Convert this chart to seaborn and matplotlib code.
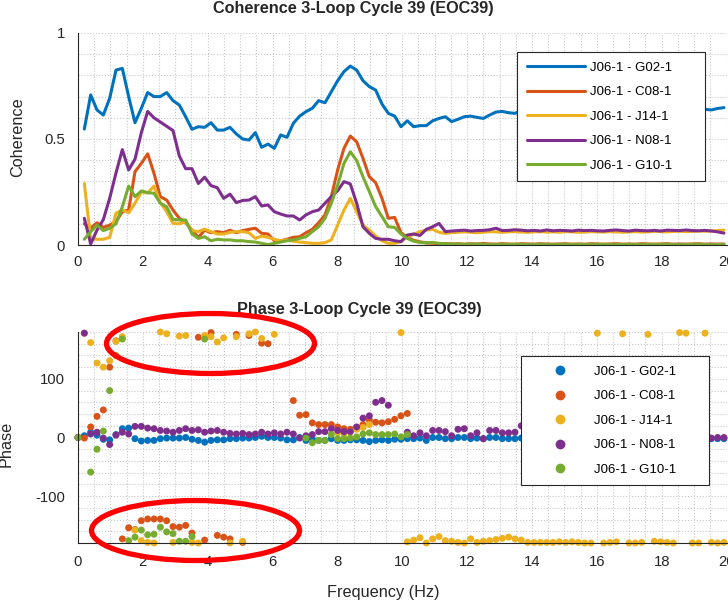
import numpy as np
import pandas as pd
import matplotlib
matplotlib.use("Agg")
import matplotlib.pyplot as plt
import seaborn as sns
from matplotlib.lines import Line2D
from matplotlib.patches import Ellipse
from matplotlib.ticker import MultipleLocator, FixedLocator

nan = np.nan

# ---------------------------------------------------------------- data
pairs = ["J06-1 - G02-1", "J06-1 - C08-1", "J06-1 - J14-1",
         "J06-1 - N08-1", "J06-1 - G10-1"]
colors = ["#0072BD", "#D95319", "#EDB120", "#7E2F8E", "#77AC30"]

bin_hz = 50 / 256                      # spectral bin spacing (fs = 50 Hz, nfft = 256)
freq = np.arange(103) * bin_hz         # phase bins, 0 .. ~19.9 Hz
coh_freq = freq[1:]                    # coherence starts at the first non-DC bin

coh_g02 = [0.547, 0.708, 0.637, 0.613, 0.692, 0.825, 0.833, 0.700, 0.577, 0.645,
           0.719, 0.700, 0.700, 0.719, 0.681, 0.660, 0.605, 0.546, 0.558, 0.555,
           0.577, 0.542, 0.542, 0.555, 0.524, 0.500, 0.495, 0.530, 0.461, 0.476,
           0.456, 0.519, 0.508, 0.574, 0.608, 0.629, 0.645, 0.681, 0.671, 0.723,
           0.775, 0.818, 0.844, 0.825, 0.775, 0.747, 0.731, 0.665, 0.621, 0.608,
           0.558, 0.586, 0.558, 0.563, 0.563, 0.586, 0.597, 0.605, 0.582, 0.593,
           0.605, 0.608, 0.602, 0.597, 0.613, 0.627, 0.630, 0.624, 0.621, 0.634,
           0.628, 0.636, 0.641, 0.632, 0.625, 0.638, 0.644, 0.637, 0.630, 0.641,
           0.648, 0.639, 0.633, 0.627, 0.636, 0.645, 0.650, 0.641, 0.634, 0.629,
           0.637, 0.646, 0.642, 0.635, 0.631, 0.639, 0.644, 0.640, 0.640, 0.637,
           0.644, 0.648]
coh_c08 = [0.100, 0.080, 0.105, 0.083, 0.094, 0.110, 0.157, 0.165, 0.346, 0.385,
           0.430, 0.338, 0.228, 0.212, 0.165, 0.126, 0.105, 0.070, 0.036, 0.070,
           0.058, 0.063, 0.058, 0.070, 0.058, 0.068, 0.074, 0.079, 0.055, 0.052,
           0.020, 0.020, 0.027, 0.036, 0.039, 0.058, 0.074, 0.105, 0.142, 0.228,
           0.354, 0.456, 0.514, 0.487, 0.409, 0.322, 0.294, 0.220, 0.126, 0.130,
           0.058, 0.036, 0.022, 0.015, 0.010, 0.008, 0.006, 0.007, 0.005, 0.006,
           0.004, 0.006, 0.005, 0.007, 0.005, 0.004, 0.006, 0.005, 0.004, 0.006,
           0.005, 0.004, 0.006, 0.005, 0.004, 0.005, 0.006, 0.004, 0.005, 0.004,
           0.006, 0.005, 0.004, 0.005, 0.006, 0.004, 0.005, 0.004, 0.006, 0.005,
           0.004, 0.005, 0.006, 0.004, 0.005, 0.004, 0.005, 0.006, 0.004, 0.005,
           0.004, 0.005]
coh_j14 = [0.290, 0.030, 0.027, 0.027, 0.036, 0.150, 0.165, 0.152, 0.197, 0.250,
           0.245, 0.278, 0.200, 0.157, 0.102, 0.100, 0.110, 0.068, 0.063, 0.075,
           0.063, 0.052, 0.052, 0.060, 0.063, 0.063, 0.058, 0.031, 0.042, 0.036,
           0.027, 0.020, 0.024, 0.018, 0.014, 0.011, 0.008, 0.008, 0.011, 0.024,
           0.094, 0.165, 0.220, 0.157, 0.094, 0.070, 0.042, 0.020, 0.008, 0.008,
           0.016, 0.039, 0.050, 0.063, 0.070, 0.074, 0.060, 0.055, 0.058, 0.060,
           0.062, 0.060, 0.058, 0.060, 0.063, 0.062, 0.060, 0.062, 0.063, 0.061,
           0.060, 0.062, 0.063, 0.061, 0.062, 0.060, 0.063, 0.062, 0.060, 0.061,
           0.063, 0.062, 0.061, 0.063, 0.062, 0.060, 0.062, 0.063, 0.061, 0.062,
           0.064, 0.063, 0.062, 0.064, 0.065, 0.063, 0.064, 0.066, 0.065, 0.066,
           0.068, 0.070]
coh_n08 = [0.126, 0.005, 0.070, 0.120, 0.220, 0.340, 0.450, 0.354, 0.405, 0.530,
           0.630, 0.600, 0.580, 0.560, 0.540, 0.420, 0.360, 0.360, 0.290, 0.320,
           0.280, 0.270, 0.220, 0.240, 0.200, 0.210, 0.212, 0.228, 0.184, 0.189,
           0.157, 0.146, 0.137, 0.137, 0.118, 0.142, 0.157, 0.165, 0.197, 0.228,
           0.256, 0.299, 0.288, 0.197, 0.086, 0.055, 0.031, 0.027, 0.027, 0.020,
           0.016, 0.047, 0.052, 0.045, 0.074, 0.086, 0.102, 0.063, 0.066, 0.068,
           0.070, 0.066, 0.068, 0.069, 0.072, 0.079, 0.068, 0.069, 0.072, 0.070,
           0.067, 0.069, 0.066, 0.071, 0.067, 0.069, 0.068, 0.066, 0.070, 0.068,
           0.069, 0.067, 0.066, 0.069, 0.071, 0.068, 0.066, 0.070, 0.068, 0.067,
           0.069, 0.066, 0.070, 0.069, 0.068, 0.071, 0.068, 0.067, 0.069, 0.066,
           0.062, 0.056]
coh_g10 = [0.027, 0.063, 0.094, 0.068, 0.079, 0.100, 0.180, 0.278, 0.228, 0.255,
           0.247, 0.244, 0.197, 0.180, 0.121, 0.118, 0.118, 0.052, 0.031, 0.039,
           0.020, 0.027, 0.024, 0.024, 0.020, 0.020, 0.016, 0.014, 0.008, 0.002,
           0.008, 0.014, 0.020, 0.024, 0.031, 0.039, 0.063, 0.086, 0.126, 0.197,
           0.283, 0.385, 0.440, 0.398, 0.322, 0.252, 0.181, 0.134, 0.086, 0.083,
           0.052, 0.031, 0.018, 0.012, 0.010, 0.012, 0.008, 0.006, 0.004, 0.004,
           0.003, 0.003, 0.004, 0.003, 0.002, 0.003, 0.002, 0.002, 0.003, 0.002,
           0.002, 0.002, 0.003, 0.002, 0.002, 0.002, 0.003, 0.002, 0.002, 0.002,
           0.002, 0.003, 0.002, 0.002, 0.002, 0.002, 0.003, 0.002, 0.002, 0.002,
           0.002, 0.002, 0.003, 0.002, 0.002, 0.002, 0.002, 0.003, 0.002, 0.002,
           0.002, 0.002]

# phase in degrees; nan where the bin is not shown
ph_g02 = [0, 3, 9, 4, -3, -4, 5, 15, 16, -2,
          -6, -5, -5, -2, -1, -1, -1, 0, -3, -5,
          -8, -5, -4, -4, -2, -2, -1, -1, 0, 2,
          0, 0, -1, -4, -4, 0, -5, -2, -5, -5,
          -2, -5, -5, -4, -4, -5, -7, -5, -4, -5,
          -3, -3, -2, -2, -1, -5, 0, 0, -2, -2,
          0, 0, -2, -1, -2, 0, 0, -2, -2, -2,
          -1, -2, -1, -3, -2, -1, -2, -3, -1, -2,
          -2, -1, -3, -2, -1, -2, -2, -3, -1, -2,
          -1, -2, -3, -2, -1, -2, -2, -1, -2, -2,
          -2, -2, -2]
ph_c08 = [0, -1, 18, 36, 47, 120, 165, -173, -154, -157,
          -142, -139, -139, -139, -142, -152, -153, -150, -163, 171,
          -175, 179, -167, -170, -173, 176, -179, 174, nan, 161,
          160, nan, nan, nan, 63, 38, 39, 25, 22, 22,
          22, 18, 15, 14, 17, 22, 30, 26, 25, 27,
          31, 37, 41] + [nan] * 50
ph_j14 = [0, 178, 162, 127, 120, 131, 164, 172, nan, -158,
          -176, -179, -180, 180, 177, -179, 173, 174, -179, -180,
          174, 172, 163, 170, -180, 172, -177, 177, 180, 169,
          nan, 176, nan, nan, nan, nan, nan, nan, nan, nan,
          nan, 8, 6, 10, 14, 17, 22, nan, nan, nan,
          nan, 179, -178, -175, -171, -180, -173, -169, -176, -177,
          -179, -180, -173, -179, -177, -176, -174, -172, -170, -173,
          -175, -179, -179, -179, -179, -179, -178, -179, -178, -179,
          -180, -180, 178, -180, -179, -178, 177, -180, -180, -179,
          176, -177, -178, -179, -180, 179, 178, -180, -180, 178,
          -179, -180, -179]
ph_n08 = [0, 178, 6, 9, -1, -12, 4, 9, 6, 19,
          19, 16, 15, 12, 11, 9, 12, 15, 12, 13,
          9, 11, 12, 9, 7, 6, 7, 5, 6, 9,
          6, 8, 6, 9, 6, -1, 3, 5, 10, 10,
          15, 12, 10, 10, 18, 33, 37, 60, 63, 55,
          nan, nan, 9, 3, 8, 3, 12, 12, 10, 3,
          14, 15, 3, 8, -2, 12, 12, 8, 8, 9,
          20, 12, 8, 6, 10, 7, 9, 5, 8, 11,
          6, 9, 7, 10, 5, 8, 6, 9, 7, 4,
          8, 6, 9, 5, 7, 4, 6, 3, 2, 0,
          -1, 0, 0]
ph_g10 = [0, nan, -59, -20, 11, 80, 140, 168, -176, -170,
          -158, -166, -165, -153, -161, -164, -177, -177, -169, nan,
          168] + [nan] * 15 + [
          -1, -9, -5, -5, 5, -2, -2, -1, 1, 6,
          8, 5, 5, 5, 6, 1, 5] + [nan] * 50

coh_series = [coh_g02, coh_c08, coh_j14, coh_n08, coh_g10]
phase_series = [ph_g02, ph_c08, ph_j14, ph_n08, ph_g10]

coh_df = pd.concat(
    [pd.DataFrame({"freq": coh_freq, "coh": v, "pair": p})
     for p, v in zip(pairs, coh_series)], ignore_index=True)
phase_df = pd.concat(
    [pd.DataFrame({"freq": freq, "phase": v, "pair": p})
     for p, v in zip(pairs, phase_series)], ignore_index=True).dropna()

# ---------------------------------------------------------------- style
sns.set_theme(style="white")
plt.rcParams["font.family"] = ["Liberation Sans", "DejaVu Sans"]
ink = "#262626"
tick_fs, label_fs, legend_fs = 10.7, 11.7, 9.5

W, H = 728, 606
fig = plt.figure(figsize=(W / 100, H / 100), dpi=100)


def axes_px(left, top, right, bottom):
    return fig.add_axes([left / W, 1 - bottom / H, (right - left) / W, (bottom - top) / H])


ax1 = axes_px(78, 33, 726.5, 245)
ax2 = axes_px(78, 332, 726.5, 543)

sns.lineplot(data=coh_df, x="freq", y="coh", hue="pair", hue_order=pairs,
             palette=colors, linewidth=2.2, estimator=None, sort=False,
             legend=False, ax=ax1)
sns.scatterplot(data=phase_df, x="freq", y="phase", hue="pair", hue_order=pairs,
                palette=colors, s=25, linewidth=0, legend=False, ax=ax2,
                clip_on=False)

for ax in (ax1, ax2):
    ax.set_xlim(0, 20)
    ax.xaxis.set_major_locator(MultipleLocator(2))
    ax.xaxis.set_minor_locator(MultipleLocator(0.5))
    ax.grid(True, which="both", linestyle=":", linewidth=0.8, color="#c8c8c8")
    ax.set_axisbelow(True)
    for side in ("top", "right"):
        ax.spines[side].set_visible(False)
    for side in ("left", "bottom"):
        ax.spines[side].set_color(ink)
        ax.spines[side].set_linewidth(0.8)
    ax.tick_params(which="major", direction="in", length=4.7, width=0.8,
                   colors=ink, labelsize=tick_fs)
    ax.tick_params(which="minor", length=0)
    ax.tick_params(axis="y", pad=9.5)
    ax.set_xlabel("")
    ax.set_ylabel("")

ax1.tick_params(axis="x", pad=7.5)
ax2.tick_params(axis="x", pad=9.0)

ax1.set_ylim(0, 1)
ax1.yaxis.set_major_locator(FixedLocator([0, 0.5, 1]))
ax1.set_yticklabels(["0", "0.5", "1"])
ax1.yaxis.set_minor_locator(MultipleLocator(0.1))

ax2.set_ylim(-180, 180)
ax2.yaxis.set_major_locator(FixedLocator([-100, 0, 100]))
ax2.set_yticklabels(["-100", "0", "100"])
ax2.yaxis.set_minor_locator(MultipleLocator(20))

# titles and axis labels
ax1.set_title("Coherence 3-Loop Cycle 39 (EOC39)", fontsize=label_fs,
              fontweight="bold", x=(353 - 78) / 648, y=1 + 24 / 212,
              va="center", pad=0)
ax2.set_title("Phase 3-Loop Cycle 39 (EOC39)", fontsize=label_fs,
              fontweight="bold", x=(359.5 - 78) / 648, y=1 + 23 / 211,
              va="center", pad=0)

ax1.set_ylabel("Coherence", fontsize=label_fs, color=ink)
ax1.yaxis.label.set_va("center")
ax1.yaxis.set_label_coords((18 - 78) / 648, 0.51)

ax2.set_ylabel("Phase", fontsize=label_fs, color=ink)
ax2.yaxis.label.set_va("center")
ax2.yaxis.set_label_coords((6.5 - 78) / 648, 0.47)

ax2.set_xlabel("Frequency (Hz)", fontsize=label_fs, color=ink)
ax2.xaxis.label.set_va("center")
ax2.xaxis.set_label_coords((383 - 78) / 648, (543 - 592) / 211)

# legends
legend_kw = dict(loc="upper left", mode="expand", borderaxespad=0,
                 bbox_transform=fig.transFigure, fontsize=legend_fs,
                 handlelength=4.4, handletextpad=0.45, labelspacing=0.93,
                 borderpad=0.72, frameon=True, fancybox=False, framealpha=1,
                 edgecolor=ink, facecolor="white")

line_handles = [Line2D([], [], color=c, lw=2.2) for c in colors]
leg1 = ax1.legend(line_handles, pairs,
                  bbox_to_anchor=(517 / W, 1 - 182 / H, 188 / W, 130 / H), **legend_kw)
leg1.get_frame().set_linewidth(0.8)

dot_handles = [Line2D([], [], color=c, marker="o", markersize=6, linestyle="none")
               for c in colors]
leg2 = ax2.legend(dot_handles, pairs, numpoints=1,
                  bbox_to_anchor=(521 / W, 1 - 485 / H, 188 / W, 129 / H), **legend_kw)
leg2.get_frame().set_linewidth(0.8)
for t in list(leg1.get_texts()) + list(leg2.get_texts()):
    t.set_color("black")

# highlight rings around the wrapped phase clusters
for cx, cy in ((210.5, 343.5), (195.5, 530.5)):
    ring = Ellipse((cx / W, 1 - cy / H), 208 / W, 60 / H, transform=fig.transFigure,
                   fill=False, edgecolor="#ff0000", linewidth=3.8, zorder=10)
    fig.add_artist(ring)

fig.savefig("out.png", dpi=100)
